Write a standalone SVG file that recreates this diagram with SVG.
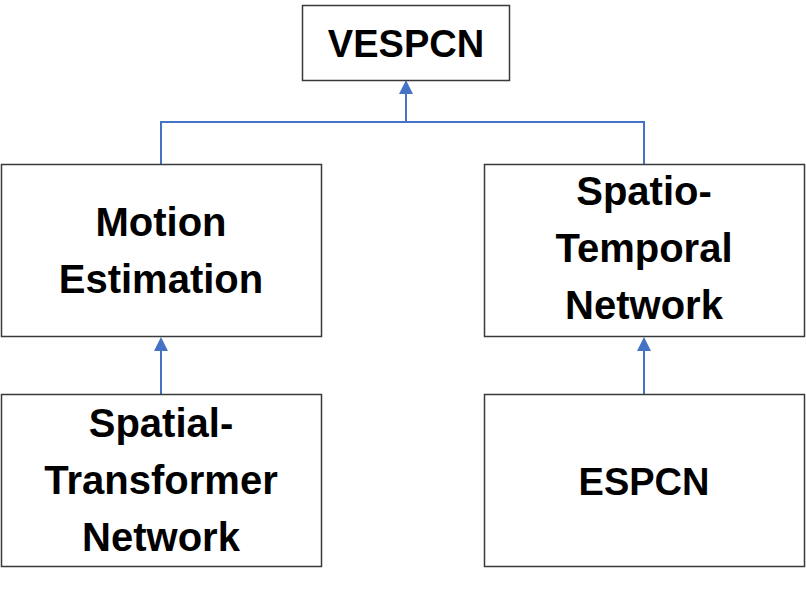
<svg xmlns="http://www.w3.org/2000/svg" width="806" height="590" viewBox="0 0 806 590">
<style>
.box{fill:#fff;stroke:#3a3a3a;stroke-width:1.5}
.t{font-family:"Liberation Sans",Arial,sans-serif;font-weight:bold;font-size:40px;fill:#000;text-anchor:middle}
.s{font-size:38px}
.c{fill:none;stroke:#4472C4;stroke-width:2}
</style>
<defs>
<marker id="ah" markerWidth="7" markerHeight="7" refX="6" refY="3.5" orient="auto" markerUnits="strokeWidth">
<path d="M0,0 L7,3.5 L0,7 Z" fill="#4472C4"/>
</marker>
</defs>
<rect width="806" height="590" fill="#fff"/>
<g id="connectors">
<polyline class="c" points="161,164 161,122 644,122 644,164"/>
<line class="c" x1="406" y1="122" x2="406" y2="82" marker-end="url(#ah)"/>
<line class="c" x1="161" y1="394" x2="161" y2="339" marker-end="url(#ah)"/>
<line class="c" x1="644" y1="394" x2="644" y2="339" marker-end="url(#ah)"/>
</g>
<g id="vespcn">
<rect class="box" x="302.5" y="5.5" width="207" height="75"/>
<text class="t s" x="406" y="57">VESPCN</text>
</g>
<g id="motion-estimation">
<rect class="box" x="1.5" y="164.5" width="320" height="172"/>
<text class="t" x="161" y="236">Motion</text>
<text class="t" x="161" y="293">Estimation</text>
</g>
<g id="spatio-temporal">
<rect class="box" x="484.5" y="164.5" width="320" height="172"/>
<text class="t" x="644" y="205">Spatio-</text>
<text class="t" x="644" y="262">Temporal</text>
<text class="t" x="644" y="319">Network</text>
</g>
<g id="spatial-transformer">
<rect class="box" x="1.5" y="394.5" width="320" height="172"/>
<text class="t" x="161" y="437">Spatial-</text>
<text class="t" x="161" y="494">Transformer</text>
<text class="t" x="161" y="551">Network</text>
</g>
<g id="espcn">
<rect class="box" x="484.5" y="394.5" width="320" height="172"/>
<text class="t s" x="644" y="495">ESPCN</text>
</g>
</svg>
